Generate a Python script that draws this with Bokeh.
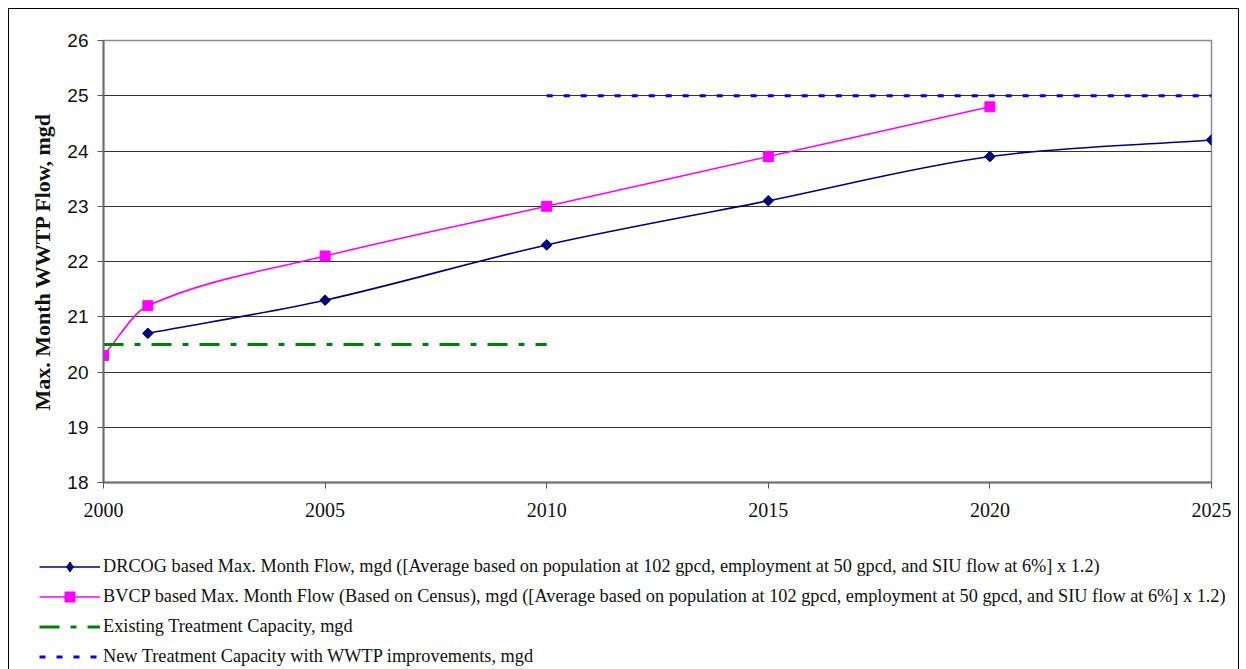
import math
from bokeh.plotting import figure
from bokeh.layouts import column
from bokeh.models import Legend, LegendItem, FixedTicker, ColumnDataSource
from bokeh.embed import file_html
from bokeh.resources import INLINE

# ---------------- data ----------------
drcog_years = [2001, 2005, 2010, 2015, 2020, 2025]
drcog_flow = [20.7, 21.3, 22.3, 23.1, 23.9, 24.2]

bvcp_years = [2000, 2001, 2005, 2010, 2015, 2020]
bvcp_flow = [20.3, 21.2, 22.1, 23.0, 23.9, 24.8]

existing_years = [2000, 2010]
existing_cap = [20.5, 20.5]

new_years = [2010, 2025]
new_cap = [25.0, 25.0]

x_ticks = [2000, 2005, 2010, 2015, 2020, 2025]
y_ticks = [18, 19, 20, 21, 22, 23, 24, 25, 26]

labels = [
    "DRCOG based Max. Month Flow, mgd ([Average based on population at 102 gpcd, employment at 50 gpcd, and SIU flow at 6%] x 1.2)",
    "BVCP based Max. Month Flow (Based on Census), mgd ([Average based on population at 102 gpcd, employment at 50 gpcd, and SIU flow at 6%] x 1.2)",
    "Existing Treatment Capacity, mgd",
    "New Treatment Capacity with WWTP improvements, mgd",
]
y_label = "Max. Month WWTP Flow, mgd"


def smooth_segments(xs, ys):
    """Smoothed line (as Excel draws it): cubic bezier control points derived from the data."""
    n = len(xs)

    def slope(i):
        if i == 0:
            return (ys[1] - ys[0]) / (xs[1] - xs[0])
        if i == n - 1:
            return (ys[-1] - ys[-2]) / (xs[-1] - xs[-2])
        return (ys[i + 1] - ys[i - 1]) / (xs[i + 1] - xs[i - 1])

    d = dict(x0=[], y0=[], x1=[], y1=[], cx0=[], cy0=[], cx1=[], cy1=[])
    for i in range(n - 1):
        x0, y0, x1, y1 = xs[i], ys[i], xs[i + 1], ys[i + 1]
        h = (x1 - x0) / 3.0
        d["x0"].append(x0); d["y0"].append(y0)
        d["x1"].append(x1); d["y1"].append(y1)
        d["cx0"].append(x0 + h); d["cy0"].append(y0 + slope(i) * h)
        d["cx1"].append(x1 - h); d["cy1"].append(y1 - slope(i + 1) * h)
    return ColumnDataSource(d)


navy = "#000080"
pink = "#FF00FF"
green = "#008000"
blue = "#0000FF"

# ---------------- main chart ----------------
p = figure(
    width=1229, height=536,
    x_range=(2000, 2025), y_range=(18, 26),
    output_backend="svg", toolbar_location=None,
    min_border_left=94, min_border_right=27, min_border_top=31, min_border_bottom=63,
)
p.frame_align = False
p.background_fill_color = "white"
p.border_fill_color = "white"
p.outline_line_color = "#8c8c8c"
p.outline_line_width = 1.5

p.xgrid.visible = False
p.ygrid.ticker = FixedTicker(ticks=y_ticks)
p.ygrid.grid_line_color = "#333333"
p.ygrid.grid_line_width = 1

p.xaxis.ticker = FixedTicker(ticks=x_ticks)
p.yaxis.ticker = FixedTicker(ticks=y_ticks)
for ax in (p.xaxis, p.yaxis):
    ax.axis_line_color = "#6e6e6e"
    ax.axis_line_width = 2
    ax.major_tick_line_color = "#555555"
    ax.major_tick_in = 0
    ax.major_tick_out = 6
    ax.minor_tick_line_color = None
    ax.major_label_text_color = "#111111"

p.xaxis.major_label_text_font = "Liberation Serif"
p.xaxis.major_label_text_font_size = "20px"
p.xaxis.major_label_standoff = 14

p.yaxis.major_label_text_font = "Liberation Sans"
p.yaxis.major_label_text_font_size = "19px"
p.yaxis.major_label_standoff = 9
p.yaxis.axis_label = y_label
p.yaxis.axis_label_text_font = "Liberation Serif"
p.yaxis.axis_label_text_font_style = "bold"
p.yaxis.axis_label_text_font_size = "22px"
p.yaxis.axis_label_text_color = "#111111"
p.yaxis.axis_label_standoff = 9

src_d = smooth_segments(drcog_years, drcog_flow)
p.bezier(x0="x0", y0="y0", x1="x1", y1="y1", cx0="cx0", cy0="cy0", cx1="cx1", cy1="cy1",
         source=src_d, line_color=navy, line_width=1.6)
src_b = smooth_segments(bvcp_years, bvcp_flow)
p.bezier(x0="x0", y0="y0", x1="x1", y1="y1", cx0="cx0", cy0="cy0", cx1="cx1", cy1="cy1",
         source=src_b, line_color=pink, line_width=1.6)

p.scatter(drcog_years, drcog_flow, marker="square", angle=math.pi / 4, size=7.5,
          fill_color=navy, line_color=navy)
p.scatter(bvcp_years, bvcp_flow, marker="square", size=10,
          fill_color=pink, line_color=pink)

p.line(existing_years, existing_cap, line_color=green, line_width=3,
       line_dash="20 11 6 11")
p.line(new_years, new_cap, line_color=blue, line_width=3,
       line_dash="6 11")

# ---------------- legend panel ----------------
# The legend sits in its own panel under the chart; its sample glyphs come from
# renderers whose data lie outside this panel's ranges, so only the legend shows.
lf = figure(
    width=1229, height=124,
    x_range=(0, 1), y_range=(0, 1),
    x_axis_type=None, y_axis_type=None,
    output_backend="svg", toolbar_location=None,
    min_border=0,
)
lf.frame_align = False
lf.outline_line_color = None
lf.grid.visible = False
lf.background_fill_color = "white"
lf.border_fill_color = "white"

l_d_line = lf.line(drcog_years, drcog_flow, line_color=navy, line_width=1.6)
l_d_mark = lf.scatter(drcog_years, drcog_flow, marker="diamond", fill_color=navy, line_color=navy)
l_b_line = lf.line(bvcp_years, bvcp_flow, line_color=pink, line_width=1.6)
l_b_mark = lf.scatter(bvcp_years, bvcp_flow, marker="square", fill_color=pink, line_color=pink)
l_ex = lf.line(existing_years, existing_cap, line_color=green, line_width=3, line_dash="20 11 6 11")
l_nw = lf.line(new_years, new_cap, line_color=blue, line_width=3, line_dash="6 11")

legend = Legend(
    items=[
        LegendItem(label=labels[0], renderers=[l_d_line, l_d_mark]),
        LegendItem(label=labels[1], renderers=[l_b_line, l_b_mark]),
        LegendItem(label=labels[2], renderers=[l_ex]),
        LegendItem(label=labels[3], renderers=[l_nw]),
    ],
    location=(30, 0),
    orientation="vertical",
    padding=0, margin=0, spacing=5,
    glyph_width=61, glyph_height=25, label_height=25,
    label_standoff=3,
    label_text_font="Liberation Serif",
    label_text_font_size="18.3px",
    label_text_color="#111111",
    border_line_color=None,
    background_fill_alpha=0,
)
lf.add_layout(legend, "center")

layout = column(p, lf, spacing=0)
layout.margin = (8, 0, 0, 8)
layout.styles = {
    "border-top": "1px solid black",
    "border-left": "1px solid black",
    "border-right": "1px solid black",
    "background-color": "white",
}

open("out.html", "w").write(file_html(layout, INLINE))
